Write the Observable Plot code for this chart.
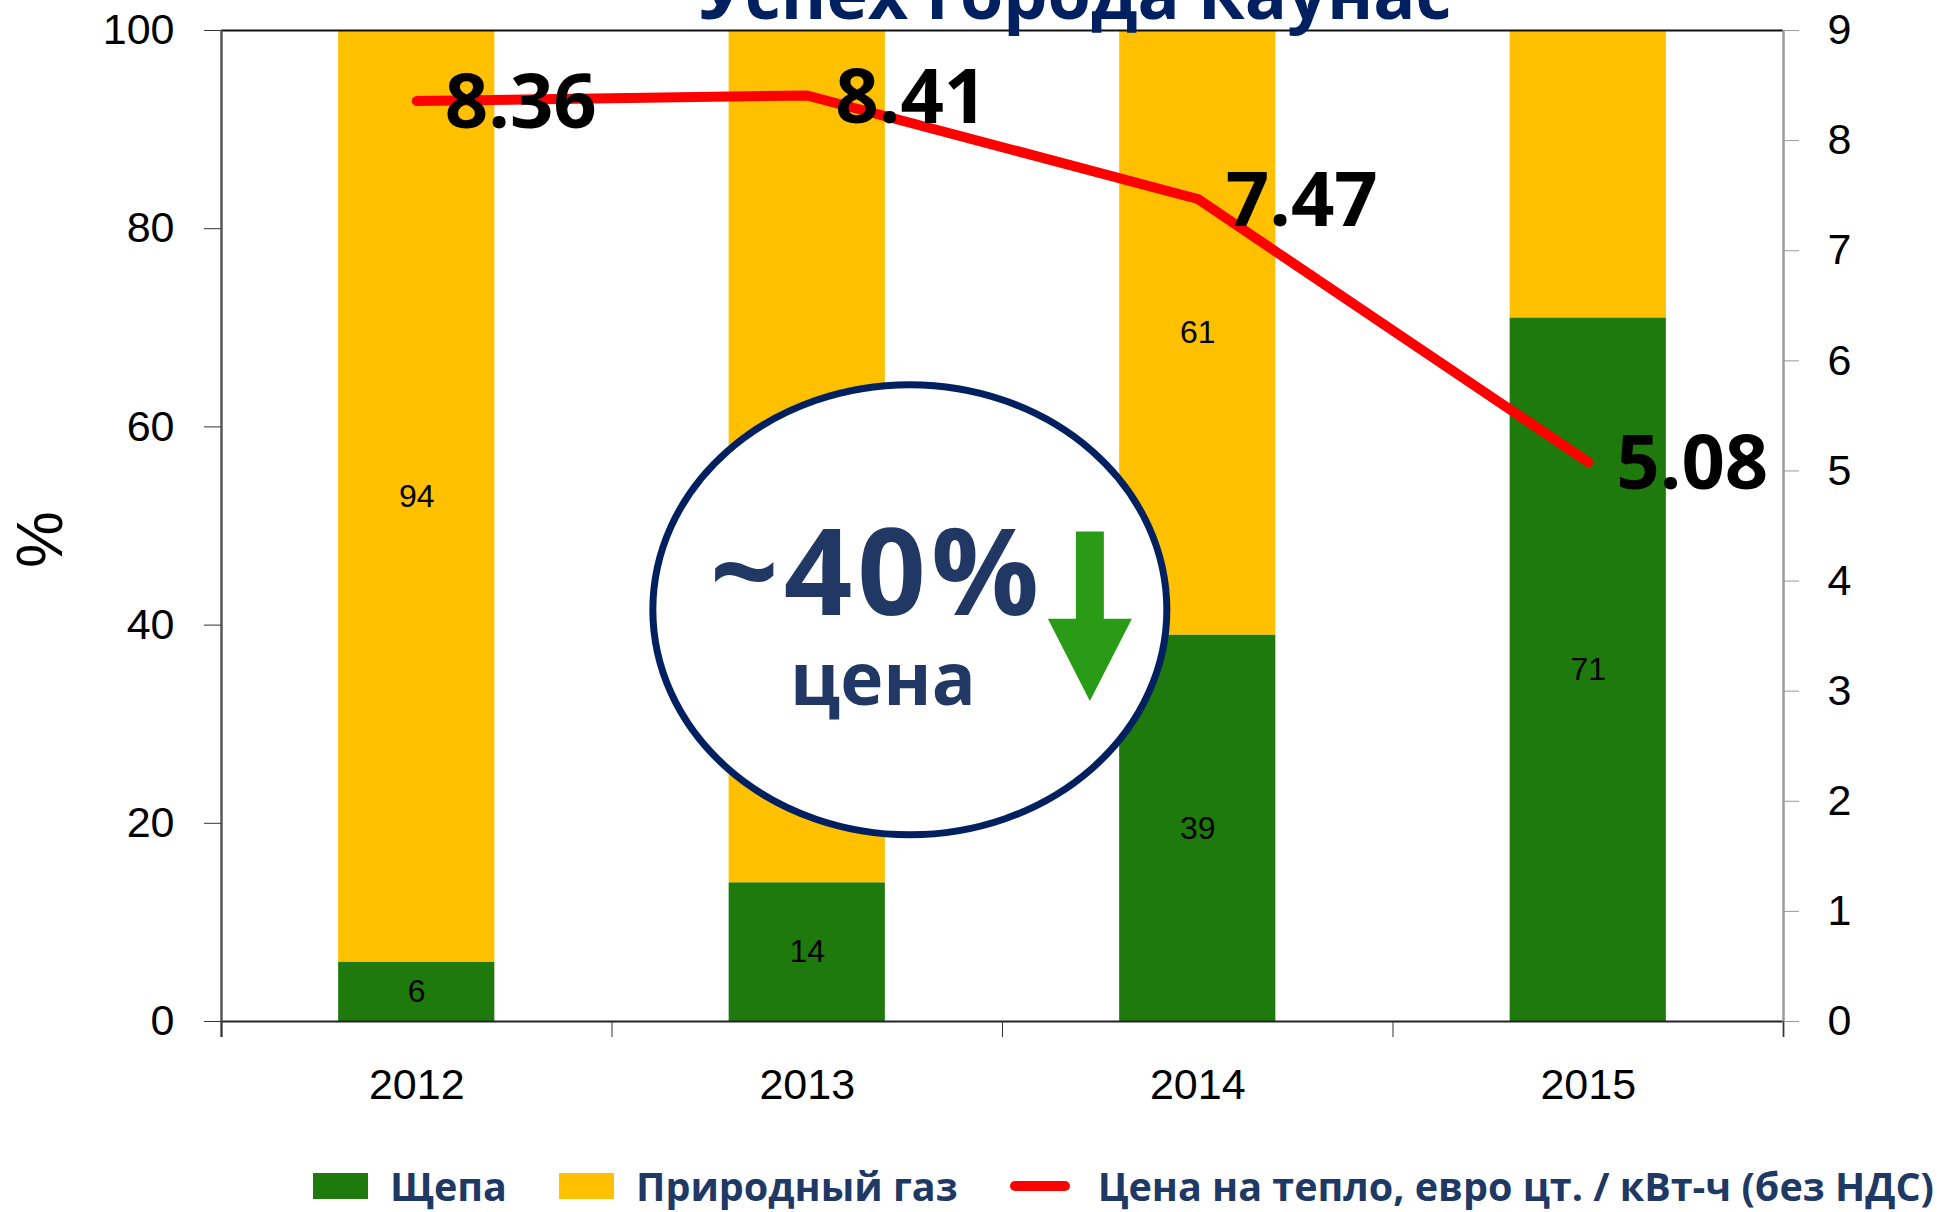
<!DOCTYPE html>
<html>
<head>
<meta charset="utf-8">
<script src="https://cdn.jsdelivr.net/npm/d3@7"></script>
<script src="https://cdn.jsdelivr.net/npm/@observablehq/plot@0.6"></script>
<style>
  html, body { margin: 0; padding: 0; background: #fff; overflow: hidden; }
  #wrap { position: relative; width: 1949px; height: 1212px; }
  #title { position: absolute; top: -43px; left: 1075px; transform: translateX(-50%);
    font: bold 70px/70px "Open Sans", sans-serif; color: #002060; white-space: nowrap; z-index: 2; }
  #legend { position: absolute; top: 1166px; left: 313px; display: flex; align-items: center;
    font: bold 39.5px/40px "Open Sans", sans-serif; color: #203864; white-space: nowrap; }
  .sw { display: inline-block; width: 55px; height: 26px; margin-right: 22px; }
  .ln { display: inline-block; width: 60px; height: 10px; border-radius: 5px; margin-right: 28px; }
  .item { display: flex; align-items: center; margin-right: 52px; }
</style>
</head>
<body>
<div id="wrap"></div>
<script>
// ---- data ----
const years = [2012, 2013, 2014, 2015];
const chipShare = [6, 14, 39, 71];      // Щепа, %
const gasShare = [94, 86, 61, 29];      // Природный газ, %
const gasLabelShown = [true, true, true, false];
const price = [8.36, 8.41, 7.47, 5.08]; // евро цт. / кВт-ч
const leftTicks = [0, 20, 40, 60, 80, 100];
const rightTicks = [0, 1, 2, 3, 4, 5, 6, 7, 8, 9];
const rightMax = 9;
const fuelNames = ["Щепа", "Природный газ"];
const fuelColors = ["#1E7A0C", "#FFC000"];
const priceName = "Цена на тепло, евро цт. / кВт-ч (без НДС)";
const priceColor = "#FF0000";
const titleText = "Успех города Каунас";
const bigText = "~40%";
const smallText = "цена";

// ---- derived tables ----
const barRows = [];
years.forEach((yr, i) => {
  barRows.push({year: yr, fuel: fuelNames[0], y1: 0, y2: chipShare[i], value: chipShare[i], show: true});
  barRows.push({year: yr, fuel: fuelNames[1], y1: chipShare[i], y2: chipShare[i] + gasShare[i], value: gasShare[i], show: gasLabelShown[i]});
});
const priceRows = years.map((yr, i) => ({year: yr, price: price[i]}));
const toLeft = v => v * 100 / rightMax;
const bounds = years.map(y => y - 0.5).concat([years[years.length - 1] + 0.5]);

const chart = Plot.plot({
  width: 1949,
  height: 1140,
  marginTop: 30,
  marginBottom: 119,
  marginLeft: 221,
  marginRight: 166,
  x: {type: "linear", domain: [bounds[0], bounds[bounds.length - 1]]},
  y: {domain: [0, 100]},
  color: {domain: fuelNames, range: fuelColors},
  style: {fontFamily: "'Liberation Sans', Arial, sans-serif", background: "white", overflow: "visible"},
  marks: [
    Plot.rect(barRows, {x1: d => d.year - 0.2, x2: d => d.year + 0.2, y1: "y1", y2: "y2", fill: "fuel"}),
    Plot.text(barRows.filter(d => d.show), {x: "year", y: d => (d.y1 + d.y2) / 2, text: d => String(d.value), fontSize: 32, fill: "black"}),
    Plot.ruleY([100], {stroke: "#111", strokeWidth: 2}),
    Plot.ruleY([0], {stroke: "#222", strokeWidth: 2}),
    Plot.ruleX([bounds[0]], {stroke: "#555", strokeWidth: 2.5, insetBottom: -16}),
    Plot.ruleX([bounds[bounds.length - 1]], {stroke: "#9a9a9a", strokeWidth: 2.5, insetBottom: -16}),
    Plot.axisY({ticks: leftTicks, anchor: "left", tickSize: 17, tickPadding: 30, fontSize: 43, label: null, stroke: "#333"}),
    Plot.axisY({ticks: rightTicks.map(toLeft), anchor: "right", tickSize: 15, tickPadding: 29, fontSize: 43, label: null, stroke: "#999",
      tickFormat: d => String(Math.round(d * rightMax / 100))}),
    Plot.axisX({ticks: bounds, tickSize: 16, tickFormat: () => "", label: null, stroke: "#333"}),
    Plot.axisX({ticks: years, tickSize: 0, tickPadding: 47, fontSize: 43, label: null, tickFormat: d => String(d)}),
    Plot.text(["%"], {frameAnchor: "left", text: d => d, dx: -180, dy: 42, rotate: -90, fontSize: 64, fill: "black"}),
    Plot.line(priceRows, {x: "year", y: d => toLeft(d.price), stroke: priceColor, strokeWidth: 10, strokeLinecap: "round", strokeLinejoin: "round"}),
    Plot.text(priceRows, {x: "year", y: d => toLeft(d.price), text: d => d.price.toFixed(2), textAnchor: "start", dx: 28, dy: 3,
      fontSize: 76, fontWeight: "bold", fontFamily: "'Open Sans', sans-serif", fill: "black"})
  ]
});

// ---- callout annotation (ellipse + arrow + text), placed through the scales ----
const sx = chart.scale("x").apply, sy = chart.scale("y").apply;
const svg = d3.select(chart);
const g = svg.append("g");
g.append("ellipse")
  .attr("cx", sx(2013.264)).attr("cy", sy(41.5))
  .attr("rx", 257).attr("ry", 225)
  .attr("fill", "white").attr("stroke", "#002060").attr("stroke-width", 7);
const ax = sx(2013.725), aTop = sy(49.4), aBase = sy(40.6), aTip = sy(32.3);
g.append("path")
  .attr("d", `M${ax - 14},${aTop} L${ax + 14},${aTop} L${ax + 14},${aBase} L${ax + 42},${aBase} L${ax},${aTip} L${ax - 42},${aBase} L${ax - 14},${aBase} Z`)
  .attr("fill", "#2A9B16");
g.append("text").text(bigText)
  .attr("x", sx(2013.18)).attr("y", sy(41.0)).attr("text-anchor", "middle")
  .attr("font-family", "'Open Sans', sans-serif").attr("font-weight", "bold").attr("font-size", 120)
  .attr("letter-spacing", 5)
  .attr("fill", "#223864");
g.append("text").text(smallText)
  .attr("x", sx(2013.195)).attr("y", sy(31.9)).attr("text-anchor", "middle")
  .attr("font-family", "'Open Sans', sans-serif").attr("font-weight", "bold").attr("font-size", 73)
  .attr("fill", "#223864");

const wrap = document.getElementById("wrap");
wrap.appendChild(chart);

const title = document.createElement("div");
title.id = "title";
title.textContent = titleText;
wrap.appendChild(title);

const legend = document.createElement("div");
legend.id = "legend";
fuelNames.forEach((n, i) => {
  const it = document.createElement("div"); it.className = "item";
  const sw = document.createElement("span"); sw.className = "sw"; sw.style.background = fuelColors[i];
  it.appendChild(sw); it.appendChild(document.createTextNode(n));
  legend.appendChild(it);
});
const it3 = document.createElement("div"); it3.className = "item";
const ln = document.createElement("span"); ln.className = "ln"; ln.style.background = priceColor;
it3.appendChild(ln); it3.appendChild(document.createTextNode(priceName));
legend.appendChild(it3);
wrap.appendChild(legend);
</script>
</body>
</html>
